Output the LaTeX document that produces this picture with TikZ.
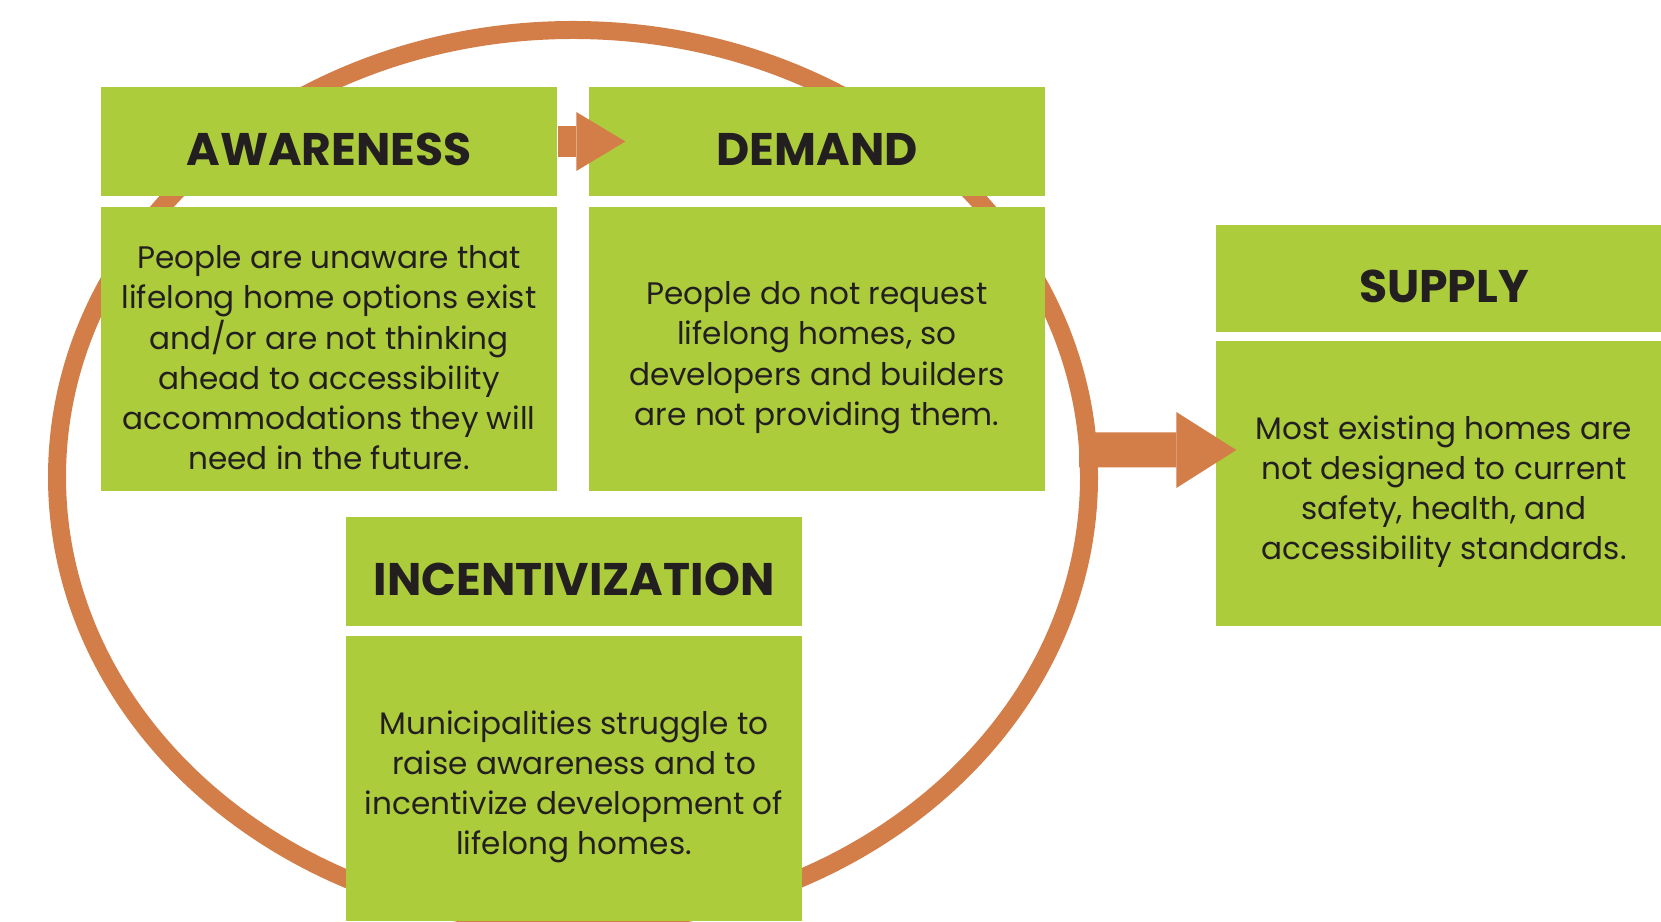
\documentclass[tikz,border=0pt]{standalone}
\usepackage{fontspec}
\setmainfont{Poppins}
\usetikzlibrary{shapes.geometric,arrows.meta}
\definecolor{leaf}{RGB}{172,204,60}
\definecolor{rust}{RGB}{211,126,72}
\definecolor{ink}{RGB}{35,31,32}
\newcommand{\lift}{\rule{0pt}{11.5pt}}

\begin{document}
\begin{tikzpicture}[
	head/.style={fill=leaf, text=ink, minimum width=4.56cm, minimum height=1.09cm, inner sep=0pt,
		font=\fontsize{13}{13}\selectfont\bfseries, text height=13.6pt, text depth=0pt},
	body/.style={fill=leaf, text=ink, minimum width=4.56cm, minimum height=2.85cm, inner sep=0pt,
		align=center, font=\fontsize{8.85}{11.4}\selectfont},
	flow/.style={draw=rust, line width=#1}
]
	\useasboundingbox[fill=white] (0,0) rectangle (16.61,9.21);

	% cycle
	\begin{scope}
		\clip (0,0) rectangle (16.61,9.0);
		\node[ellipse, draw=rust, line width=1.8mm, minimum width=10.32cm, minimum height=8.94cm, inner sep=0pt, outer sep=0pt] (ring) at (5.73,4.44) {};
	\end{scope}

	% awareness
	\node[head] (aware) at (3.29,7.795) {AWARENESS};
	\node[body, minimum height=2.84cm] (awaretext) at (3.29,5.72) {\lift People are unaware that\\lifelong home options exist\\and/or are not thinking\\ahead to accessibility\\accommodations they will\\need in the future.};

	% demand
	\node[head] (demand) at (8.17,7.795) {DEMAND};
	\node[body, minimum height=2.84cm] (demandtext) at (8.17,5.72) {\lift People do not request\\lifelong homes, so\\developers and builders\\are not providing them.};

	% incentivization
	\node[head] (incent) at (5.74,3.495) {INCENTIVIZATION};
	\node[body] (incenttext) at (5.74,1.425) {\lift Municipalities struggle to\\raise awareness and to\\incentivize development of\\lifelong homes.};

	% supply
	\node[head, minimum height=1.07cm] (supply) at (14.44,6.425) {SUPPLY};
	\node[body] (supplytext) at (14.44,4.375) {\lift Most existing homes are\\not designed to current\\safety, health, and\\accessibility standards.};

	% arrows
	\draw[flow=3.1mm, -{Triangle[length=4.9mm, width=5.9mm, line width=0pt]}, rust] (aware.east) -- ([xshift=3.7mm]demand.west);
	\draw[flow=3.5mm, -{Triangle[length=6mm, width=7.6mm, line width=0pt]}, rust] ([xshift=-1mm,yshift=2.7mm]ring.east) -- ([xshift=2.1mm,yshift=3.35mm]supplytext.west);
\end{tikzpicture}
\end{document}
